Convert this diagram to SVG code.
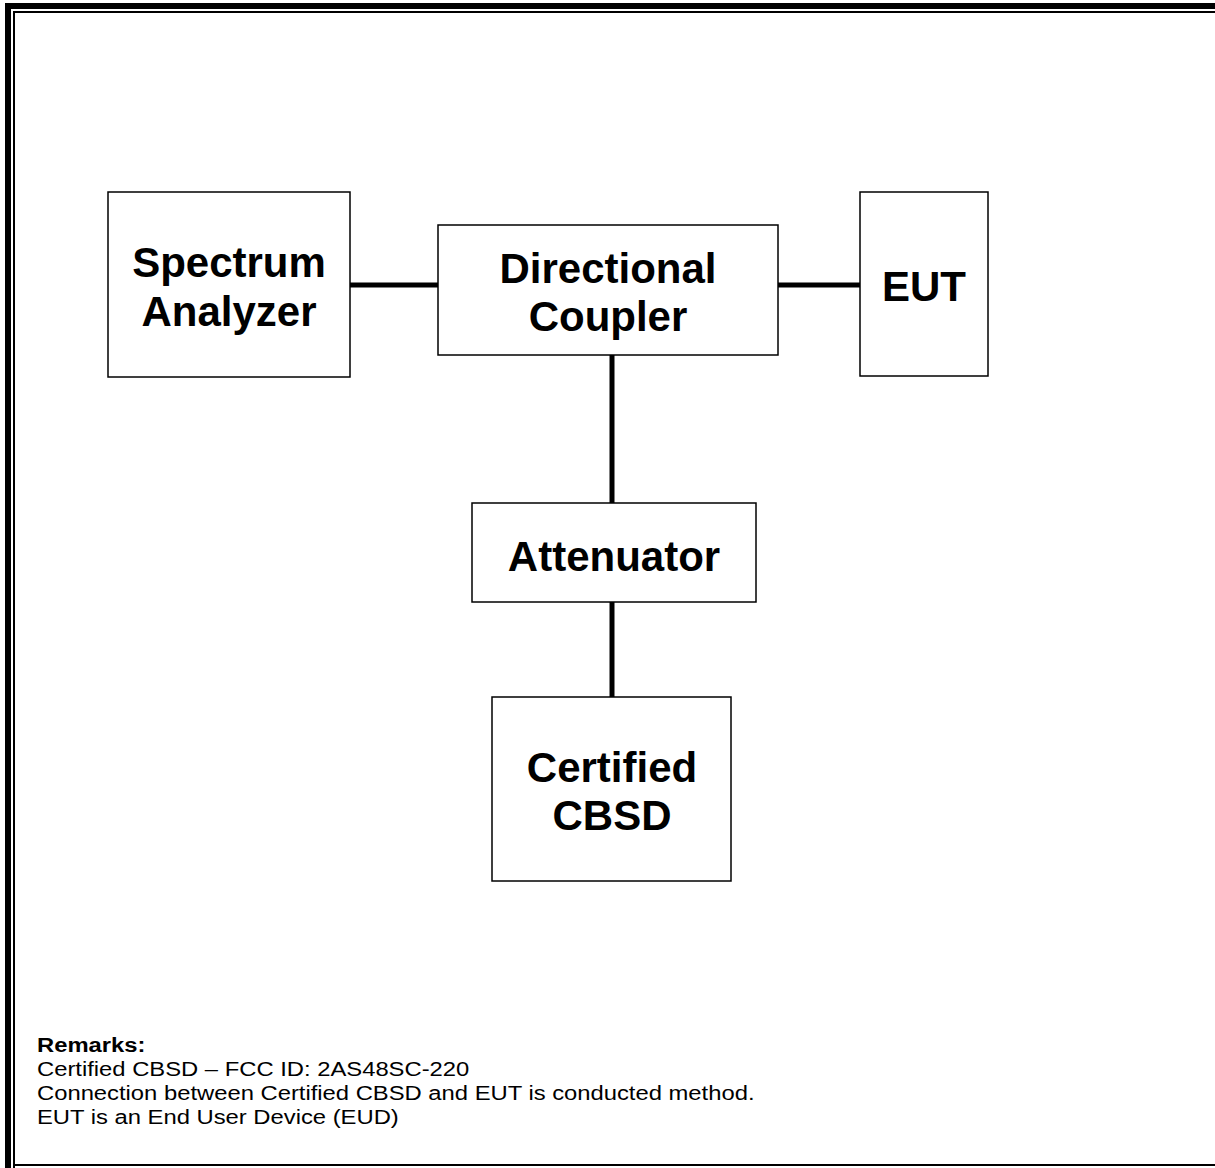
<svg xmlns="http://www.w3.org/2000/svg" width="1215" height="1168" viewBox="0 0 1215 1168">
<style>
.box{fill:#fff;stroke:#000;stroke-width:1.5}
.lbl{font-family:"Liberation Sans",Arial,sans-serif;font-weight:bold;font-size:42px;text-anchor:middle;fill:#000}
.conn{stroke:#000;stroke-width:5;fill:none}
.rem{font-family:"Liberation Sans",Arial,sans-serif;font-size:20px;fill:#000}
</style>
<rect width="1215" height="1168" fill="#fff"/>
<g id="frame">
<path d="M8,1168 V6 H1215" fill="none" stroke="#000" stroke-width="6"/>
<path d="M14,1168 V12 H1215 M14,1165 H1215" fill="none" stroke="#000" stroke-width="2"/>
</g>
<g id="connectors">
<line class="conn" x1="350" y1="285" x2="438" y2="285"/>
<line class="conn" x1="778" y1="285" x2="860" y2="285"/>
<line class="conn" x1="612" y1="355" x2="612" y2="503"/>
<line class="conn" x1="612" y1="602" x2="612" y2="697"/>
</g>
<g id="spectrum-analyzer">
<rect class="box" x="108" y="192" width="242" height="185"/>
<text class="lbl" x="229" y="277">Spectrum</text>
<text class="lbl" x="229" y="326">Analyzer</text>
</g>
<g id="directional-coupler">
<rect class="box" x="438" y="225" width="340" height="130"/>
<text class="lbl" x="608" y="283">Directional</text>
<text class="lbl" x="608" y="331">Coupler</text>
</g>
<g id="eut">
<rect class="box" x="860" y="192" width="128" height="184"/>
<text class="lbl" x="924" y="301">EUT</text>
</g>
<g id="attenuator">
<rect class="box" x="472" y="503" width="284" height="99"/>
<text class="lbl" x="614" y="571">Attenuator</text>
</g>
<g id="certified-cbsd">
<rect class="box" x="492" y="697" width="239" height="184"/>
<text class="lbl" x="612" y="782">Certified</text>
<text class="lbl" x="612" y="830">CBSD</text>
</g>
<g id="remarks" transform="scale(1.19 1)">
<text class="rem" x="31.1" y="1052" font-weight="bold">Remarks:</text>
<text class="rem" x="31.1" y="1076">Certified CBSD – FCC ID: 2AS48SC-220</text>
<text class="rem" x="31.1" y="1100">Connection between Certified CBSD and EUT is conducted method.</text>
<text class="rem" x="31.1" y="1124">EUT is an End User Device (EUD)</text>
</g>
</svg>
